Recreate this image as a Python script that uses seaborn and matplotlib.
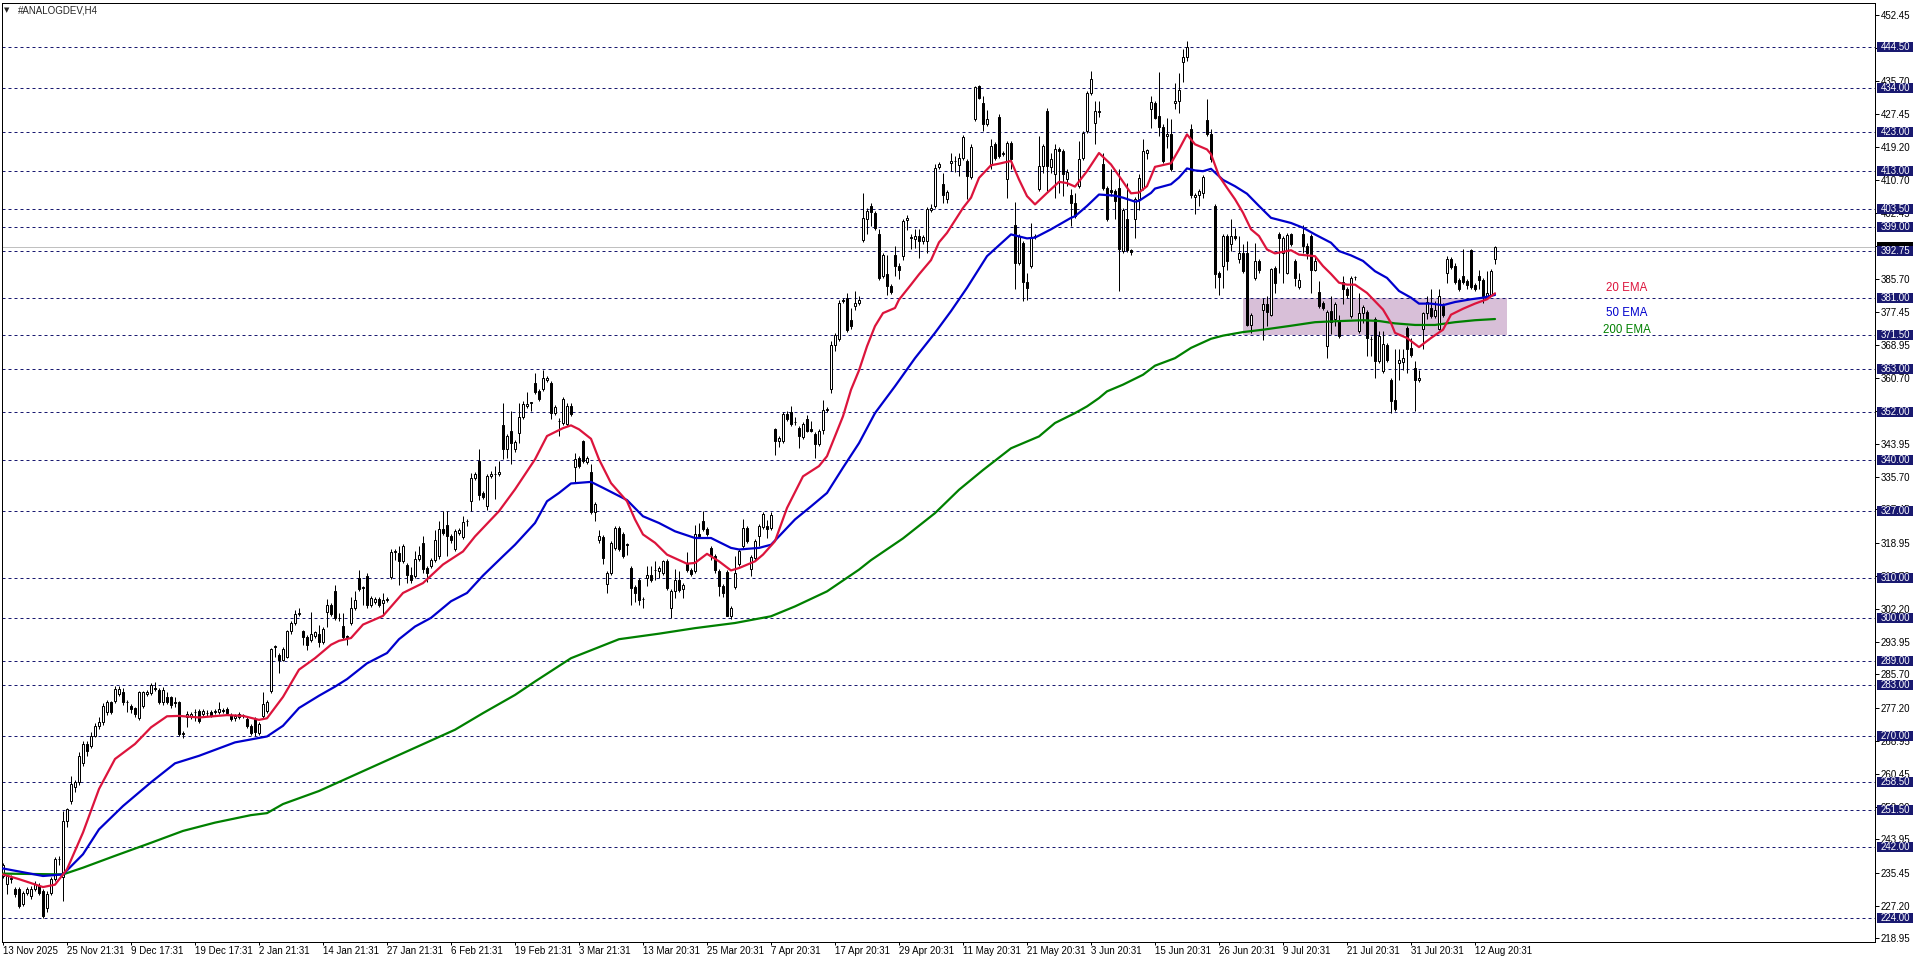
import numpy as np
import pandas as pd
import matplotlib
matplotlib.use("Agg")
import matplotlib.pyplot as plt
import matplotlib.transforms as mtransforms
from matplotlib.patches import Rectangle
import seaborn as sns

sns.set_style("white")
plt.rcParams['font.family'] = ['Liberation Sans', 'DejaVu Sans']

# ---------------- data ----------------
symbol_title = "#ANALOGDEV,H4"

date_labels = ["13 Nov 2025", "25 Nov 21:31", "9 Dec 17:31", "19 Dec 17:31", "2 Jan 21:31",
               "14 Jan 21:31", "27 Jan 21:31", "6 Feb 21:31", "19 Feb 21:31", "3 Mar 21:31",
               "13 Mar 20:31", "25 Mar 20:31", "7 Apr 20:31", "17 Apr 20:31", "29 Apr 20:31",
               "11 May 20:31", "21 May 20:31", "3 Jun 20:31", "15 Jun 20:31", "26 Jun 20:31",
               "9 Jul 20:31", "21 Jul 20:31", "31 Jul 20:31", "12 Aug 20:31"]
bars_per_label = 16

price_ticks = [452.45, 444.20, 435.70, 427.45, 419.20, 410.70, 402.45, 394.20, 385.70, 377.45,
               368.95, 360.70, 352.45, 343.95, 335.70, 327.45, 318.95, 310.70, 302.20, 293.95,
               285.70, 277.20, 268.95, 260.45, 252.20, 243.95, 235.45, 227.20, 218.95]

levels = [444.50, 434.00, 423.00, 413.00, 403.50, 399.00, 392.75, 381.00, 371.50, 363.00, 352.00,
          340.00, 327.00, 310.00, 300.00, 289.00, 283.00, 270.00, 258.50, 251.50, 242.00, 224.00]

zone_bars = [310, 376]
zone_prices = [371.5, 381.0]

open_ = [
 234.7, 232.6, 234.3, 231.3, 231.3, 227.5, 230.5, 229.6, 231.3, 232.2,
 230.9, 226.7, 230.5, 233.9, 238.9, 234.5, 248.6, 253.7, 257.1, 258.4,
 263.4, 268.1, 267.6, 270.2, 272.7, 273.6, 276.1, 278.6, 279.0, 280.7,
 281.3, 278.8, 277.8, 277.1, 274.6, 277.8, 280.7, 280.9, 282.2, 281.8,
 278.6, 279.9, 279.9, 278.6, 278.6, 270.6, 274.8, 275.2, 276.1, 276.5,
 275.7, 276.0, 276.1, 276.2, 276.3, 276.6, 276.9, 275.4, 274.6, 274.8,
 275.2, 274.4, 272.7, 274.4, 270.9, 275.2, 276.5, 281.4, 292.6, 290.6,
 289.4, 290.2, 296.6, 298.7, 301.0, 296.6, 295.1, 294.3, 295.3, 296.0,
 293.8, 301.6, 303.3, 306.9, 300.0, 298.0, 295.3, 298.8, 302.5, 310.1,
 307.6, 310.5, 303.3, 303.9, 304.8, 303.7, 304.5, 310.3, 316.7, 316.4,
 314.3, 313.5, 310.9, 310.5, 314.9, 318.9, 312.6, 313.2, 314.7, 315.6,
 322.5, 323.6, 320.8, 317.3, 321.5, 320.5, 324.4, 329.5, 335.4, 339.6,
 331.5, 328.2, 336.0, 336.5, 336.4, 348.7, 342.8, 347.4, 342.6, 346.8,
 350.9, 353.7, 354.4, 359.3, 357.4, 358.0, 360.2, 359.5, 351.9, 349.9,
 349.4, 349.1, 353.6, 338.2, 340.5, 344.7, 339.4, 336.9, 326.7, 319.8,
 320.5, 308.6, 311.3, 317.7, 322.7, 321.1, 318.6, 312.6, 307.7, 309.7,
 304.8, 310.1, 310.9, 312.1, 311.8, 311.3, 314.3, 302.5, 306.7, 309.7,
 307.3, 313.9, 312.2, 311.8, 321.3, 324.6, 322.6, 317.7, 315.6, 311.8,
 308.1, 311.7, 300.5, 307.8, 313.7, 318.1, 322.7, 312.4, 315.1, 320.6,
 323.0, 323.2, 322.8, 347.7, 344.7, 344.7, 351.5, 352.1, 349.5, 348.1,
 345.8, 350.2, 347.7, 346.6, 344.1, 347.5, 352.6, 357.8, 369.0, 370.5,
 380.1, 380.9, 375.4, 378.8, 379.7, 395.7, 400.8, 404.3, 402.5, 397.0,
 386.4, 386.9, 383.9, 391.9, 389.0, 391.5, 400.6, 396.3, 395.9, 396.6,
 395.3, 395.3, 403.3, 404.2, 414.1, 409.7, 406.0, 415.0, 415.5, 414.5,
 416.4, 415.6, 411.6, 426.1, 434.6, 430.2, 424.9, 414.7, 419.8, 426.6,
 417.3, 410.9, 420.2, 399.5, 389.8, 394.9, 384.9, 389.0, 396.3, 408.4,
 414.3, 428.2, 414.0, 412.2, 418.7, 418.1, 410.9, 407.1, 405.0, 409.2,
 416.4, 423.2, 432.7, 425.1, 428.0, 414.7, 408.8, 408.2, 408.0, 408.8,
 392.8, 400.8, 393.0, 401.0, 406.0, 408.8, 417.7, 428.8, 430.2, 427.0,
 424.3, 421.9, 422.5, 430.2, 430.8, 440.5, 441.8, 423.8, 406.5, 406.9,
 407.5, 425.9, 422.5, 404.2, 387.3, 389.0, 396.6, 394.5, 396.5, 390.7,
 392.3, 392.3, 374.2, 386.0, 390.2, 378.0, 379.3, 376.5, 388.6, 397.2,
 392.3, 387.3, 397.0, 390.2, 383.7, 397.0, 394.0, 396.7, 388.1, 382.4,
 379.7, 368.9, 377.6, 375.5, 375.0, 384.9, 383.3, 376.3, 386.2, 372.5,
 377.2, 377.3, 370.6, 375.5, 364.9, 362.4, 369.1, 360.3, 355.0, 364.5,
 364.7, 373.4, 368.3, 363.2, 360.1, 373.1, 377.0, 378.4, 376.3, 373.1,
 378.9, 387.3, 390.9, 389.0, 385.4, 386.6, 385.2, 393.0, 384.1, 386.6,
 385.4, 381.4, 381.8, 390.7]

high_ = [
 238.0, 235.0, 235.0, 231.8, 232.0, 231.0, 232.0, 232.2, 233.5, 233.0,
 231.5, 230.8, 234.5, 239.5, 239.8, 251.2, 252.0, 260.0, 259.0, 266.0,
 268.8, 268.8, 271.0, 273.5, 275.0, 278.5, 279.2, 279.0, 282.8, 282.8,
 282.2, 279.1, 278.3, 277.5, 281.6, 281.6, 281.8, 283.5, 283.7, 282.3,
 282.5, 281.2, 280.3, 279.9, 279.0, 271.4, 276.5, 276.3, 276.9, 277.0,
 277.0, 276.6, 276.6, 277.0, 278.6, 277.2, 277.4, 275.9, 275.7, 276.2,
 275.8, 274.9, 273.2, 274.9, 273.7, 281.2, 279.2, 292.5, 293.2, 291.0,
 292.6, 297.0, 299.3, 302.1, 302.5, 297.0, 295.6, 301.6, 296.8, 298.2,
 297.6, 304.8, 303.8, 308.4, 301.2, 301.2, 295.7, 305.4, 306.7, 312.2,
 308.0, 311.4, 305.5, 305.4, 305.3, 306.3, 305.3, 317.5, 317.3, 318.1,
 318.6, 314.0, 312.9, 316.8, 318.1, 320.6, 313.1, 315.2, 322.3, 324.4,
 327.0, 327.0, 321.2, 322.4, 322.7, 325.7, 324.9, 336.7, 336.8, 342.8,
 332.0, 336.5, 337.1, 338.4, 339.6, 354.4, 346.4, 352.3, 345.0, 354.4,
 354.8, 357.1, 354.6, 361.9, 357.9, 362.7, 361.3, 360.0, 353.9, 350.6,
 355.8, 354.3, 354.4, 341.8, 341.0, 345.1, 340.9, 339.0, 329.4, 322.3,
 321.0, 311.8, 319.5, 323.2, 323.2, 321.6, 319.0, 313.1, 308.2, 310.1,
 305.4, 313.0, 313.0, 314.3, 313.1, 314.7, 314.8, 307.2, 312.4, 311.8,
 308.8, 316.6, 312.7, 323.6, 324.0, 327.1, 323.1, 318.2, 316.1, 312.3,
 308.6, 312.2, 303.0, 315.7, 317.3, 324.9, 323.2, 315.9, 320.0, 323.7,
 326.9, 324.7, 326.7, 348.1, 346.1, 352.0, 352.3, 353.6, 350.9, 348.6,
 349.6, 351.2, 349.8, 347.1, 347.7, 355.0, 353.4, 370.0, 372.0, 380.5,
 381.0, 382.2, 378.4, 382.6, 381.4, 407.6, 403.7, 405.0, 403.0, 398.3,
 392.4, 391.9, 384.4, 394.2, 389.8, 400.9, 401.8, 397.0, 398.3, 398.4,
 396.8, 404.0, 404.8, 414.7, 415.2, 412.6, 408.2, 417.7, 416.8, 417.7,
 422.1, 416.1, 420.0, 434.6, 434.7, 432.0, 428.5, 421.2, 420.3, 427.4,
 418.2, 420.7, 420.6, 405.2, 397.1, 395.4, 387.3, 399.8, 397.2, 421.9,
 419.8, 429.1, 417.7, 420.0, 419.2, 418.6, 413.6, 408.4, 407.5, 420.6,
 423.2, 433.4, 438.4, 430.8, 430.8, 417.7, 409.3, 413.5, 408.5, 413.5,
 403.7, 410.1, 393.4, 406.4, 412.2, 421.2, 418.7, 432.0, 430.8, 438.0,
 424.9, 426.5, 426.1, 435.4, 437.9, 443.9, 446.0, 424.9, 407.6, 408.5,
 412.1, 431.2, 423.8, 404.7, 387.8, 397.0, 397.0, 400.8, 398.7, 396.7,
 394.5, 395.3, 377.1, 394.9, 390.7, 381.0, 381.4, 388.6, 389.1, 397.6,
 396.6, 397.3, 397.4, 390.7, 387.3, 399.5, 394.9, 397.2, 391.5, 385.2,
 380.2, 377.8, 381.5, 379.8, 376.7, 386.5, 383.8, 386.5, 386.6, 382.2,
 379.2, 377.8, 371.2, 376.0, 372.5, 372.5, 369.6, 360.8, 367.9, 367.9,
 367.9, 373.9, 370.8, 364.9, 362.8, 377.5, 381.4, 383.1, 380.1, 383.1,
 379.7, 391.5, 391.3, 389.8, 385.9, 393.4, 385.7, 393.4, 384.6, 388.0,
 385.9, 387.7, 388.2, 394.2]

low_ = [
 234.2, 230.1, 233.0, 229.5, 226.5, 227.0, 230.0, 229.0, 230.8, 230.0,
 224.1, 225.5, 230.0, 233.5, 237.4, 228.4, 247.0, 253.0, 256.0, 257.8,
 262.5, 265.1, 267.0, 269.8, 272.0, 273.0, 275.5, 275.8, 278.5, 280.2,
 278.0, 276.3, 276.0, 274.8, 274.2, 277.3, 280.2, 280.5, 281.5, 278.3,
 278.0, 278.2, 277.3, 277.4, 270.0, 269.5, 272.3, 274.5, 274.0, 273.5,
 275.0, 275.3, 274.8, 275.6, 275.8, 276.0, 275.5, 273.8, 274.0, 274.3,
 274.6, 272.2, 270.3, 270.0, 270.4, 274.7, 276.0, 281.0, 290.2, 286.0,
 289.0, 289.8, 296.0, 298.2, 300.4, 293.2, 291.9, 293.8, 294.8, 292.6,
 293.3, 297.8, 300.5, 299.4, 299.1, 294.6, 293.2, 298.3, 302.0, 306.8,
 303.3, 302.5, 302.8, 303.4, 302.8, 301.0, 304.0, 309.8, 314.7, 308.4,
 313.8, 308.8, 308.8, 310.0, 314.4, 311.4, 309.0, 312.7, 314.2, 315.0,
 321.0, 315.6, 318.9, 316.8, 321.0, 320.0, 323.2, 327.0, 335.0, 329.9,
 330.0, 327.4, 335.5, 330.0, 336.0, 340.1, 340.5, 339.0, 342.0, 344.3,
 350.4, 353.2, 352.3, 356.6, 354.8, 357.5, 359.7, 350.2, 351.2, 346.0,
 348.9, 348.6, 351.0, 334.3, 338.0, 339.1, 339.0, 326.2, 324.4, 318.9,
 313.7, 306.4, 310.8, 317.2, 316.8, 315.1, 316.0, 303.3, 303.9, 303.3,
 302.5, 308.0, 309.0, 309.7, 310.1, 310.8, 307.0, 299.9, 305.0, 306.6,
 305.0, 311.5, 310.7, 311.3, 320.1, 322.0, 320.6, 314.7, 311.3, 305.6,
 305.4, 300.4, 299.7, 307.3, 313.2, 317.6, 319.0, 310.7, 314.6, 318.1,
 322.5, 320.2, 322.3, 341.2, 343.3, 344.2, 349.7, 348.6, 348.9, 343.0,
 345.3, 346.9, 347.0, 340.5, 343.6, 346.4, 352.1, 357.0, 367.5, 370.0,
 379.7, 372.4, 373.1, 378.0, 379.2, 395.2, 397.0, 399.1, 398.2, 385.6,
 385.9, 381.8, 381.9, 386.4, 385.8, 390.6, 398.1, 393.2, 393.6, 391.1,
 394.5, 392.3, 402.8, 403.7, 413.6, 405.0, 405.0, 413.0, 412.8, 411.9,
 415.9, 406.0, 411.1, 425.6, 431.2, 423.2, 424.4, 413.5, 415.9, 416.3,
 416.8, 406.3, 413.5, 383.1, 389.3, 380.1, 380.5, 388.5, 395.8, 407.9,
 412.6, 408.0, 412.6, 406.3, 407.5, 406.7, 409.2, 399.1, 401.2, 408.7,
 415.9, 422.7, 432.2, 420.0, 426.8, 408.3, 400.5, 406.7, 401.0, 382.6,
 392.3, 392.5, 391.7, 396.1, 403.3, 408.3, 416.0, 424.0, 426.1, 421.9,
 415.1, 418.9, 413.1, 428.7, 427.7, 435.6, 440.9, 406.3, 402.1, 404.2,
 406.3, 421.8, 415.2, 383.5, 381.8, 383.5, 388.1, 392.8, 395.7, 389.8,
 387.2, 373.8, 372.1, 385.6, 387.3, 370.4, 373.8, 376.3, 382.2, 387.3,
 384.7, 386.9, 394.2, 383.9, 383.1, 392.3, 390.7, 382.2, 387.7, 378.4,
 377.9, 365.7, 371.7, 373.8, 370.7, 379.3, 381.0, 375.8, 385.6, 372.0,
 374.6, 366.2, 366.2, 360.7, 364.4, 362.0, 364.8, 351.8, 352.3, 360.3,
 362.8, 362.0, 366.1, 352.3, 359.6, 367.9, 375.5, 375.8, 375.8, 372.9,
 376.0, 384.8, 388.3, 384.4, 382.6, 384.4, 383.1, 383.3, 382.6, 383.1,
 379.7, 380.7, 381.3, 389.4]

close_ = [
 237.4, 234.7, 234.0, 230.1, 227.1, 230.5, 231.3, 231.5, 232.6, 230.5,
 224.6, 230.1, 233.9, 238.9, 239.1, 248.6, 251.6, 257.9, 258.4, 265.1,
 268.1, 266.4, 270.2, 272.7, 273.6, 277.8, 278.6, 276.3, 282.0, 282.0,
 278.6, 278.6, 276.9, 275.7, 281.2, 281.2, 281.2, 283.0, 282.0, 278.8,
 281.8, 278.6, 277.9, 278.4, 270.6, 270.8, 275.7, 275.7, 276.3, 274.0,
 276.5, 275.9, 275.2, 276.4, 276.9, 276.5, 276.0, 274.4, 275.2, 275.7,
 275.3, 272.7, 270.9, 271.0, 273.1, 278.2, 278.6, 292.1, 292.9, 289.4,
 292.1, 296.6, 298.7, 301.0, 301.0, 295.1, 293.2, 296.0, 296.3, 293.8,
 297.2, 303.3, 301.0, 299.9, 299.9, 295.1, 295.1, 302.5, 304.4, 307.3,
 307.7, 303.3, 305.0, 304.8, 303.3, 304.6, 304.7, 316.7, 316.9, 314.3,
 318.1, 310.9, 309.7, 314.9, 316.0, 312.4, 311.4, 314.7, 319.8, 322.5,
 321.5, 320.6, 319.6, 321.9, 322.2, 324.2, 324.5, 335.4, 336.3, 331.2,
 330.6, 336.0, 336.4, 336.4, 337.0, 342.6, 346.0, 344.3, 344.5, 350.9,
 354.2, 354.2, 354.4, 357.1, 355.3, 360.8, 360.8, 351.9, 353.4, 349.8,
 355.3, 353.7, 351.5, 340.1, 338.5, 339.6, 340.5, 326.7, 328.9, 320.8,
 315.1, 311.3, 319.0, 322.7, 317.3, 315.6, 318.5, 307.5, 306.3, 304.6,
 304.7, 310.9, 309.5, 312.2, 312.6, 314.3, 307.5, 306.7, 309.5, 307.1,
 308.3, 312.0, 311.2, 321.3, 320.6, 322.5, 321.1, 315.6, 312.0, 308.0,
 306.3, 300.5, 302.5, 311.3, 316.8, 322.7, 319.5, 315.4, 319.5, 323.2,
 326.4, 322.5, 326.1, 344.7, 345.4, 351.5, 350.2, 349.1, 349.5, 346.0,
 349.1, 347.4, 347.2, 343.9, 347.2, 352.7, 352.9, 369.0, 371.5, 379.7,
 380.3, 372.9, 373.9, 379.7, 380.5, 401.2, 402.9, 402.7, 398.7, 386.0,
 391.9, 383.9, 382.4, 389.0, 388.1, 400.4, 401.2, 396.1, 396.6, 395.3,
 396.4, 403.5, 403.7, 413.9, 414.7, 407.1, 407.7, 415.6, 415.6, 416.4,
 421.7, 411.8, 419.0, 434.2, 431.6, 424.9, 426.1, 419.4, 416.4, 416.8,
 417.7, 420.2, 416.0, 389.8, 396.6, 384.9, 383.5, 396.4, 396.6, 414.3,
 419.4, 414.3, 416.0, 418.7, 418.1, 412.2, 412.8, 405.0, 401.6, 416.2,
 422.7, 432.9, 436.4, 428.2, 428.0, 408.8, 401.0, 407.7, 405.4, 393.2,
 403.3, 393.0, 392.6, 405.9, 411.4, 418.1, 418.3, 430.4, 426.5, 424.3,
 415.6, 422.5, 413.6, 430.8, 433.6, 442.0, 444.5, 407.1, 407.1, 408.0,
 411.6, 422.3, 416.0, 386.9, 386.3, 396.6, 390.2, 396.6, 396.2, 392.2,
 387.7, 374.2, 376.5, 390.2, 388.0, 379.3, 377.3, 388.3, 384.7, 396.1,
 396.1, 396.8, 394.7, 386.0, 385.4, 394.2, 392.3, 388.1, 390.2, 379.0,
 378.4, 377.3, 374.8, 379.3, 371.2, 383.3, 381.8, 386.0, 386.3, 377.2,
 378.7, 370.8, 370.5, 364.9, 371.4, 369.4, 365.3, 354.8, 352.8, 365.2,
 365.8, 368.0, 366.6, 360.3, 360.7, 377.0, 380.0, 376.3, 377.8, 381.4,
 376.5, 390.9, 388.8, 384.9, 383.1, 384.9, 384.1, 383.8, 383.1, 385.4,
 381.4, 382.1, 387.7, 393.9]

ema20_bar = [0, 4, 10, 13, 16, 20, 24, 28, 33, 37, 41, 44, 49, 56, 60, 64, 66, 70, 74, 78,
             82, 84, 87, 90, 95, 100, 105, 110, 115, 118, 124, 128, 133, 136, 140, 142, 144, 147, 149, 152,
             156, 158, 160, 163, 166, 171, 173, 176, 179, 182, 184, 188, 190, 193, 196, 200, 204, 206, 210, 212,
             214, 216, 218, 220, 223, 224, 227, 229, 232, 234, 236, 240, 242, 244, 247, 249, 252, 254, 256, 258,
             261, 264, 266, 268, 271, 274, 277, 279, 282, 284, 286, 288, 292, 294, 296, 298, 301, 302, 304, 306,
             308, 310, 312, 314, 316, 318, 322, 324, 328, 330, 332, 334, 336, 338, 341, 343, 345, 347, 348, 351,
             354, 357, 360, 362, 365, 368, 371, 373]
ema20_val = [235.1, 233.9, 231.9, 232.5, 236.4, 245.7, 256.7, 264.3, 268.1, 272.3,
             275.1, 275.2, 274.8, 275.4, 275.2, 274.2, 274.6, 280.0, 286.9, 289.8,
             293.2, 294.2, 294.9, 298.3, 300.5, 306.3, 308.8, 313.5, 316.8, 320.6,
             327.0, 332.5, 340.1, 346.0, 348.0, 348.7, 347.7, 345.3, 340.1, 334.1,
             329.5, 324.9, 321.1, 319.0, 316.0, 313.7, 313.9, 316.2, 314.3, 312.0,
             312.6, 314.3, 316.0, 319.4, 327.8, 335.8, 338.4, 340.9, 351.0, 357.7,
             362.6, 368.7, 373.8, 377.1, 378.4, 380.5, 384.3, 386.9, 390.5, 395.0,
             397.4, 403.7, 406.3, 411.3, 414.5, 414.9, 415.6, 410.9, 406.7, 404.6,
             407.5, 410.3, 410.0, 409.1, 413.0, 417.6, 414.7, 411.8, 407.4, 407.6,
             409.2, 414.1, 415.0, 418.5, 422.3, 419.8, 418.5, 417.3, 411.8, 408.8,
             405.9, 402.5, 398.3, 396.6, 393.2, 392.2, 393.0, 391.9, 391.5, 389.0,
             387.0, 384.8, 384.3, 384.3, 382.2, 380.1, 378.0, 374.6, 372.1, 370.8,
             368.5, 370.8, 372.9, 376.7, 378.2, 379.5, 380.6, 382.1]

ema50_bar = [0, 10, 15, 20, 24, 30, 37, 43, 49, 58, 66, 70, 74, 79, 83, 86, 91, 96, 99, 103,
             107, 112, 116, 120, 125, 128, 133, 136, 139, 142, 147, 150, 156, 160, 164, 168, 173, 177, 182, 184,
             189, 192, 198, 202, 206, 210, 214, 218, 223, 228, 233, 237, 241, 246, 252, 256, 258, 262, 267, 268,
             271, 274, 278, 280, 283, 284, 287, 288, 292, 294, 296, 298, 300, 302, 305, 308, 311, 314, 317, 322,
             325, 328, 332, 334, 337, 340, 343, 346, 349, 352, 354, 357, 360, 363, 367, 370, 373]
ema50_val = [236.6, 234.7, 235.1, 240.2, 246.5, 252.4, 258.4, 263.2, 265.1, 268.5,
             270.0, 272.7, 277.2, 280.3, 282.6, 284.5, 288.5, 291.1, 294.6, 297.8,
             300.0, 304.2, 306.3, 310.7, 315.6, 318.5, 324.0, 329.5, 331.6, 334.0,
             334.4, 332.9, 329.8, 325.7, 324.0, 321.9, 320.2, 320.2, 317.7, 317.3,
             317.7, 318.5, 324.9, 328.2, 331.6, 338.0, 344.2, 351.8, 358.6, 365.7,
             372.1, 377.6, 383.5, 391.5, 397.0, 396.0, 396.2, 398.3, 401.2, 401.6,
             404.2, 407.1, 406.8, 406.3, 405.3, 405.5, 407.5, 408.6, 409.7, 411.4,
             413.7, 413.2, 413.0, 413.6, 410.8, 409.2, 407.3, 404.2, 401.2, 399.9,
             398.7, 397.0, 394.9, 392.8, 391.7, 390.3, 387.7, 386.0, 382.7, 381.0,
             379.5, 379.5, 379.1, 379.9, 380.6, 381.0, 381.7]

ema200_bar = [0, 15, 20, 28, 37, 45, 53, 62, 66, 70, 79, 113, 120, 128, 133, 142, 154, 164, 173, 183,
              192, 198, 206, 214, 217, 225, 233, 239, 245, 252, 259, 263, 268, 271, 274, 276, 280, 285, 288, 293,
              297, 302, 305, 310, 315, 322, 328, 332, 340, 344, 348, 353, 358, 363, 368, 373]
ema200_val = [235.3, 235.1, 236.8, 239.8, 243.1, 246.1, 248.2, 250.1, 250.6, 252.9,
              256.2, 271.7, 275.9, 280.5, 283.9, 289.8, 294.6, 296.0, 297.4, 298.7,
              300.4, 302.9, 306.7, 312.2, 314.6, 320.1, 326.5, 332.4, 337.4, 342.9,
              345.9, 349.3, 351.8, 353.5, 355.6, 357.3, 359.0, 361.5, 363.8, 365.7,
              368.3, 370.6, 371.4, 372.3, 372.9, 373.9, 374.8, 375.0, 375.3, 375.1,
              374.5, 374.1, 374.1, 374.8, 375.3, 375.6]

# ---------------- figure ----------------
W, H = 1916, 963
PX = 0.72  # one pixel in points at dpi 100
NAVY = '#191970'
RED = '#DC143C'
BLUE = '#0000CD'
GREEN = '#008000'

fig = plt.figure(figsize=(W / 100, H / 100), dpi=100)
fig.patch.set_facecolor('white')
ax = fig.add_axes([2 / W, 21 / H, 1873 / W, 939 / H])
ax.set_facecolor('white')
ax.set_xlim(-0.25, 468)
ax.set_ylim(218.0, 455.55)

# support/resistance zone
ax.add_patch(Rectangle((zone_bars[0], zone_prices[0]), zone_bars[1] - zone_bars[0],
                       zone_prices[1] - zone_prices[0], facecolor='#D8BFD8',
                       edgecolor='none', zorder=0.5))

# horizontal levels
for lv in levels:
    ax.axhline(lv, color=NAVY, lw=PX, linestyle=(0, (3, 3)), zorder=1)

# bid line
bid = close_[-1]
ax.axhline(bid, color='#C0C0C0', lw=PX, zorder=1.2)

# candles
df = pd.DataFrame({'o': open_, 'h': high_, 'l': low_, 'c': close_})
df['x'] = np.arange(len(df))
up = df['c'] >= df['o']
top = np.maximum(df['h'], np.maximum(df['o'], df['c']))
bot = np.minimum(df['l'], np.minimum(df['o'], df['c']))
ax.vlines(df['x'], bot, top, color='black', lw=PX, zorder=2)
body_bot = np.minimum(df['o'], df['c'])
body_h = np.maximum((df['c'] - df['o']).abs(), 0.12)
ax.bar(df['x'][up], body_h[up], bottom=body_bot[up], width=0.5, color='white',
       edgecolor='black', linewidth=PX, zorder=3)
ax.bar(df['x'][~up], body_h[~up], bottom=body_bot[~up], width=0.5, color='black',
       edgecolor='black', linewidth=PX, zorder=3)

# EMAs via seaborn
for bars, vals, col in [(ema200_bar, ema200_val, GREEN), (ema50_bar, ema50_val, BLUE),
                        (ema20_bar, ema20_val, RED)]:
    sns.lineplot(x=bars, y=vals, ax=ax, color=col, linewidth=1.6, estimator=None, zorder=4)

ax.set_xlabel('')
ax.set_ylabel('')

# EMA labels
ax.text(406, 383.4, "20 EMA", color=RED, fontsize=8.3, ha='center', va='center', zorder=5)
ax.text(406, 377.0, "50 EMA", color=BLUE, fontsize=8.3, ha='center', va='center', zorder=5)
ax.text(406, 372.9, "200 EMA", color=GREEN, fontsize=8.3, ha='center', va='center', zorder=5)

# axes styling
for sp in ax.spines.values():
    sp.set_visible(True)
    sp.set_color('black')
    sp.set_linewidth(PX)

ax.yaxis.tick_right()
ax.set_yticks(price_ticks)
ax.set_yticklabels([f"{v:.2f}" for v in price_ticks])
ax.tick_params(axis='y', which='both', direction='out', length=4 * PX, width=PX,
               pad=1.5 * PX, labelsize=7, colors='black', left=False, right=True)

tick_pos = [i * bars_per_label for i in range(len(date_labels))]
ax.set_xticks(tick_pos)
ax.set_xticklabels(date_labels, ha='left')
ax.tick_params(axis='x', which='both', direction='out', length=3 * PX, width=PX,
               pad=1.0 * PX, labelsize=7, colors='black', bottom=True)
ax.grid(False)

# price boxes on right axis
trans = mtransforms.blended_transform_factory(ax.transAxes, ax.transData)
bx0 = (1877 - 2) / 1873
bw = 36.5 / 1873
bh = 10 / 3.953

# bid marker (mostly covered by the 392.75 box, as in the terminal)
ax.add_patch(Rectangle((bx0, bid - bh / 2), bw, bh, transform=trans, facecolor='black',
                       edgecolor='none', clip_on=False, zorder=6))
for lv in levels:
    ax.add_patch(Rectangle((bx0, lv - bh / 2), bw, bh, transform=trans, facecolor=NAVY,
                           edgecolor='none', clip_on=False, zorder=7))
    ax.text(bx0 + bw / 2, lv, f"{lv:.2f}", transform=trans, color='white', fontsize=7,
            ha='center', va='center', clip_on=False, zorder=8)

# title
fig.text(4 / W, 1 - 10.5 / H, "\u25BC", fontsize=5, ha='left', va='center',
         family=['DejaVu Sans'])
fig.text(18 / W, 1 - 10.5 / H, symbol_title, fontsize=7, ha='left', va='center')

fig.savefig("out.png", dpi=100, facecolor='white')
